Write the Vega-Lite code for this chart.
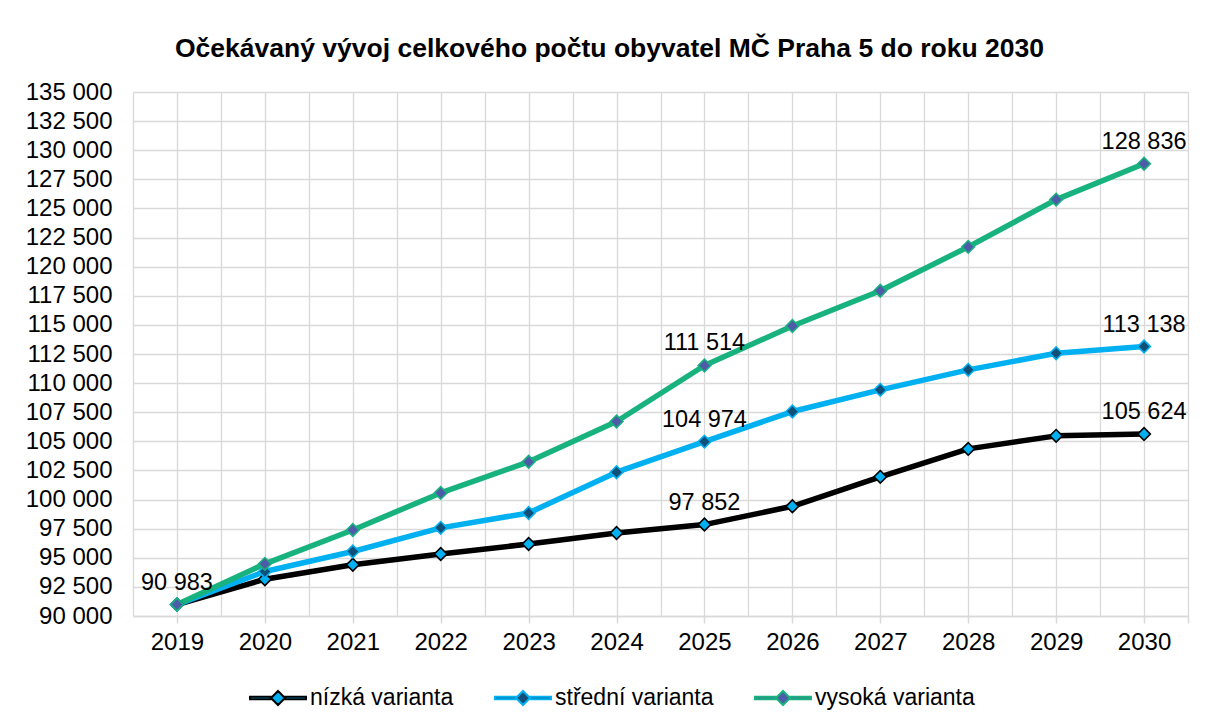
{
  "$schema": "https://vega.github.io/schema/vega-lite/v6.json",
  "width": 1055,
  "height": 524,
  "autosize": "none",
  "padding": {"left": 133, "top": 92, "right": 18, "bottom": 111},
  "background": "white",
  "config": {
    "font": "Liberation Sans",
    "locale": {"number": {"decimal": ",", "thousands": " ", "grouping": [3], "currency": ["", " Kč"]}},
    "view": {"stroke": null}
  },
  "title": {
    "text": "Očekávaný vývoj celkového počtu obyvatel MČ Praha 5 do roku 2030",
    "font": "Liberation Sans",
    "fontSize": 26.5,
    "fontWeight": "bold",
    "color": "#000000",
    "anchor": "start",
    "frame": "group",
    "dx": 42,
    "offset": 18
  },
  "data": {
    "values": [
      {"year": 2019, "series": "nízká varianta", "value": 90983, "lab": true},
      {"year": 2020, "series": "nízká varianta", "value": 93160, "lab": false},
      {"year": 2021, "series": "nízká varianta", "value": 94400, "lab": false},
      {"year": 2022, "series": "nízká varianta", "value": 95320, "lab": false},
      {"year": 2023, "series": "nízká varianta", "value": 96180, "lab": false},
      {"year": 2024, "series": "nízká varianta", "value": 97130, "lab": false},
      {"year": 2025, "series": "nízká varianta", "value": 97852, "lab": true},
      {"year": 2026, "series": "nízká varianta", "value": 99420, "lab": false},
      {"year": 2027, "series": "nízká varianta", "value": 101950, "lab": false},
      {"year": 2028, "series": "nízká varianta", "value": 104350, "lab": false},
      {"year": 2029, "series": "nízká varianta", "value": 105470, "lab": false},
      {"year": 2030, "series": "nízká varianta", "value": 105624, "lab": true},
      {"year": 2019, "series": "střední varianta", "value": 90983, "lab": false},
      {"year": 2020, "series": "střední varianta", "value": 93820, "lab": false},
      {"year": 2021, "series": "střední varianta", "value": 95540, "lab": false},
      {"year": 2022, "series": "střední varianta", "value": 97570, "lab": false},
      {"year": 2023, "series": "střední varianta", "value": 98850, "lab": false},
      {"year": 2024, "series": "střední varianta", "value": 102350, "lab": false},
      {"year": 2025, "series": "střední varianta", "value": 104974, "lab": true},
      {"year": 2026, "series": "střední varianta", "value": 107560, "lab": false},
      {"year": 2027, "series": "střední varianta", "value": 109420, "lab": false},
      {"year": 2028, "series": "střední varianta", "value": 111140, "lab": false},
      {"year": 2029, "series": "střední varianta", "value": 112560, "lab": false},
      {"year": 2030, "series": "střední varianta", "value": 113138, "lab": true},
      {"year": 2019, "series": "vysoká varianta", "value": 90983, "lab": false},
      {"year": 2020, "series": "vysoká varianta", "value": 94480, "lab": false},
      {"year": 2021, "series": "vysoká varianta", "value": 97390, "lab": false},
      {"year": 2022, "series": "vysoká varianta", "value": 100570, "lab": false},
      {"year": 2023, "series": "vysoká varianta", "value": 103240, "lab": false},
      {"year": 2024, "series": "vysoká varianta", "value": 106700, "lab": false},
      {"year": 2025, "series": "vysoká varianta", "value": 111514, "lab": true},
      {"year": 2026, "series": "vysoká varianta", "value": 114900, "lab": false},
      {"year": 2027, "series": "vysoká varianta", "value": 117930, "lab": false},
      {"year": 2028, "series": "vysoká varianta", "value": 121700, "lab": false},
      {"year": 2029, "series": "vysoká varianta", "value": 125760, "lab": false},
      {"year": 2030, "series": "vysoká varianta", "value": 128836, "lab": true}
    ]
  },
  "encoding": {
    "x": {
      "field": "year",
      "type": "quantitative",
      "scale": {"domain": [2018.5, 2030.5], "nice": false, "zero": false},
      "axis": {
        "title": null,
        "values": [2018.5, 2019, 2019.5, 2020, 2020.5, 2021, 2021.5, 2022, 2022.5, 2023, 2023.5, 2024, 2024.5, 2025, 2025.5, 2026, 2026.5, 2027, 2027.5, 2028, 2028.5, 2029, 2029.5, 2030, 2030.5],
        "labelExpr": "datum.value % 1 === 0 ? '' + datum.value : ''",
        "grid": true,
        "gridColor": "#d9d9d9",
        "gridWidth": 1.3,
        "domainColor": "#d9d9d9",
        "domainWidth": 1.5,
        "tickColor": {"condition": {"test": "datum.value % 1 === 0 || datum.value > 2030", "value": "#d9d9d9"}, "value": "transparent"},
        "tickWidth": 1.5,
        "tickSize": 7,
        "labelPadding": 7,
        "labelFontSize": 24,
        "labelColor": "#000000",
        "labelFlush": false,
        "labelOverlap": false
      }
    },
    "y": {
      "field": "value",
      "type": "quantitative",
      "scale": {"domain": [90000, 135000], "nice": false, "zero": false},
      "axis": {
        "title": null,
        "values": [90000, 92500, 95000, 97500, 100000, 102500, 105000, 107500, 110000, 112500, 115000, 117500, 120000, 122500, 125000, 127500, 130000, 132500, 135000],
        "format": ",d",
        "grid": true,
        "gridColor": "#d9d9d9",
        "gridWidth": 1.3,
        "domain": false,
        "ticks": false,
        "tickSize": 0,
        "labelPadding": 21,
        "labelFontSize": 24,
        "labelColor": "#000000",
        "labelOverlap": false
      }
    }
  },
  "layer": [
    {
      "mark": {"type": "line", "strokeWidth": 5.5, "strokeJoin": "round"},
      "encoding": {
        "stroke": {
          "field": "series",
          "type": "nominal",
          "scale": {"domain": ["nízká varianta", "střední varianta", "vysoká varianta"], "range": ["#000000", "#00B0F0", "#18B27E"]},
          "legend": {
            "title": null,
            "orient": "none",
            "legendX": 116,
            "legendY": 577,
            "direction": "horizontal",
            "symbolType": "M -1 -0.045 L -0.25 -0.045 L -0.25 0.045 L -1 0.045 Z M 0.25 -0.045 L 1 -0.045 L 1 0.045 L 0.25 0.045 Z M 0 -0.25 L 0.25 0 L 0 0.25 L -0.25 0 Z",
            "symbolSize": 3136,
            "symbolStrokeWidth": 2,
            "symbolOpacity": 1,
            "labelFontSize": 23,
            "labelColor": "#000000",
            "labelOffset": 3,
            "columnPadding": 37,
            "labelLimit": 0
          }
        }
      }
    },
    {
      "mark": {"type": "point", "shape": "diamond", "filled": true, "size": 160, "strokeWidth": 1.6, "opacity": 1},
      "encoding": {
        "fill": {
          "field": "series",
          "type": "nominal",
          "scale": {"domain": ["nízká varianta", "střední varianta", "vysoká varianta"], "range": ["#00B0F0", "#0F4F78", "#4E5BA8"]},
          "legend": {
            "title": null,
            "orient": "none",
            "legendX": 116,
            "legendY": 577,
            "direction": "horizontal",
            "symbolType": "M -1 -0.045 L -0.25 -0.045 L -0.25 0.045 L -1 0.045 Z M 0.25 -0.045 L 1 -0.045 L 1 0.045 L 0.25 0.045 Z M 0 -0.25 L 0.25 0 L 0 0.25 L -0.25 0 Z",
            "symbolSize": 3136,
            "symbolStrokeWidth": 2,
            "symbolOpacity": 1,
            "labelFontSize": 23,
            "labelColor": "#000000",
            "labelOffset": 3,
            "columnPadding": 37,
            "labelLimit": 0
          }
        },
        "stroke": {
          "field": "series",
          "type": "nominal",
          "scale": {"domain": ["nízká varianta", "střední varianta", "vysoká varianta"], "range": ["#000000", "#00B0F0", "#18B27E"]},
          "legend": {
            "title": null,
            "orient": "none",
            "legendX": 116,
            "legendY": 577,
            "direction": "horizontal",
            "symbolType": "M -1 -0.045 L -0.25 -0.045 L -0.25 0.045 L -1 0.045 Z M 0.25 -0.045 L 1 -0.045 L 1 0.045 L 0.25 0.045 Z M 0 -0.25 L 0.25 0 L 0 0.25 L -0.25 0 Z",
            "symbolSize": 3136,
            "symbolStrokeWidth": 2,
            "symbolOpacity": 1,
            "labelFontSize": 23,
            "labelColor": "#000000",
            "labelOffset": 3,
            "columnPadding": 37,
            "labelLimit": 0
          }
        }
      }
    },
    {
      "transform": [{"filter": "datum.lab"}],
      "mark": {"type": "text", "fontSize": 23.5, "dy": -15, "baseline": "alphabetic", "align": "center", "color": "#000000"},
      "encoding": {
        "text": {"field": "value", "type": "quantitative", "format": ",d"}
      }
    }
  ]
}
